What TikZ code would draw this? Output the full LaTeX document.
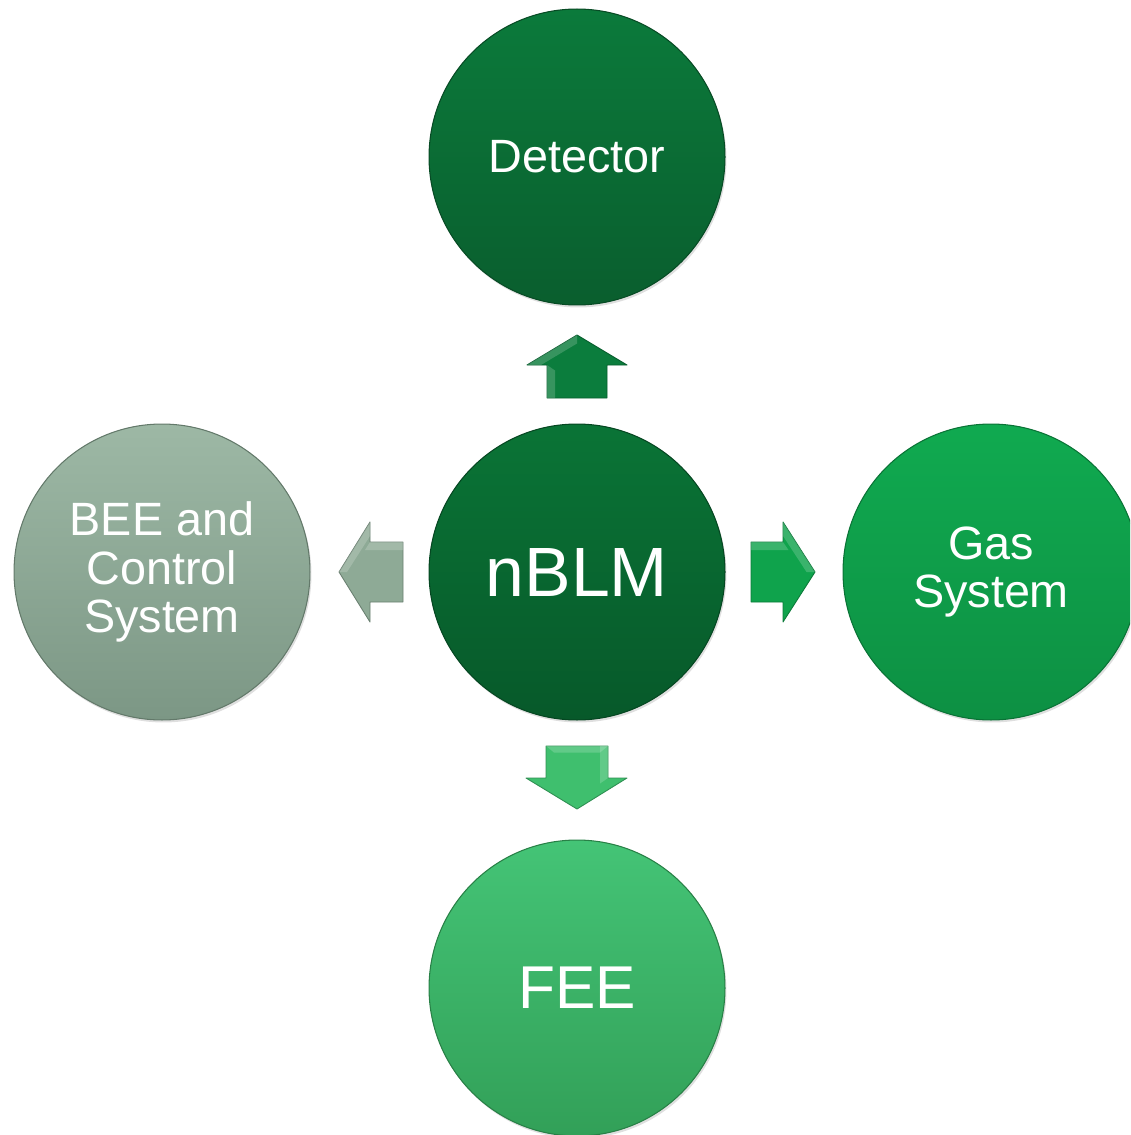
\documentclass[tikz,border=0pt]{standalone}
\usepackage{fontspec}
\setmainfont{Liberation Sans}
\usetikzlibrary{shadows}
\definecolor{detTop}{HTML}{0B7A3B}
\definecolor{detBot}{HTML}{0A5E2E}
\definecolor{nbTop}{HTML}{0A7436}
\definecolor{nbBot}{HTML}{07592A}
\definecolor{gasTop}{HTML}{10AA50}
\definecolor{gasBot}{HTML}{0D9043}
\definecolor{feeTop}{HTML}{44C476}
\definecolor{feeBot}{HTML}{32A058}
\definecolor{beeTop}{HTML}{9DB8A5}
\definecolor{beeBot}{HTML}{7C9785}
\definecolor{arUp}{HTML}{0B7D3D}
\definecolor{arRight}{HTML}{0FA34C}
\definecolor{arDown}{HTML}{3FBF6E}
\definecolor{arLeft}{HTML}{8EAA96}
\tikzset{
  ball/.style={circle, minimum size=5.92cm, inner sep=0pt, text=white, align=center,
    draw=#1Bot!80!black, line width=0.6pt, top color=#1Top, bottom color=#1Bot,
    drop shadow={shadow xshift=0.03cm, shadow yshift=-0.05cm, opacity=0.25}},
  smalltext/.style={font=\fontsize{26.6}{27.8}\selectfont},
  blockarrow/.style={fill=#1, draw=#1!75!black, line width=0.5pt, line join=round},
  bevel/.style={fill=white, fill opacity=0.18, draw=none},
}
\begin{document}
\begin{tikzpicture}[x=0.02cm, y=-0.02cm]
\useasboundingbox (0,0) rectangle (1130,1135);
\clip (0,0) rectangle (1130,1135);
% circles
\node[ball=det, smalltext] (det) at (577,157) {Detector};
\node[ball=nb, font=\fontsize{39.7}{42}\selectfont] (nblm) at (577,572) {nBLM};
\node[ball=gas, smalltext] (gas) at (991,572) {Gas\\System};
\node[ball=bee, smalltext] (bee) at (162,572) {BEE and\\Control\\System};
\node[ball=fee, font=\fontsize{34.4}{36}\selectfont] (fee) at (577,988) {FEE};
% up arrow
\begin{scope}[shift={(577,366.5)}]
  \draw[blockarrow=arUp] (-30,31.5) -- (-30,-1.5) -- (-50,-1.5) -- (0,-31.5) -- (50,-1.5) -- (30,-1.5) -- (30,31.5) -- cycle;
  \fill[bevel] (-30,31.5) -- (-30,-1.5) -- (-22,4) -- (-22,31.5) -- cycle;
  \fill[bevel] (-50,-1.5) -- (0,-31.5) -- (0,-23) -- (-36,-1.5) -- cycle;
\end{scope}
% right arrow
\begin{scope}[shift={(782.5,572)}]
  \draw[blockarrow=arRight] (-31.5,-30) -- (0.5,-30) -- (0.5,-50) -- (32.5,0) -- (0.5,50) -- (0.5,30) -- (-31.5,30) -- cycle;
  \fill[bevel] (-31.5,-30) -- (0.5,-30) -- (6,-22) -- (-31.5,-22) -- cycle;
  \fill[bevel] (0.5,-50) -- (32.5,0) -- (24,0) -- (0.5,-36) -- cycle;
\end{scope}
% left arrow
\begin{scope}[shift={(371,572)}]
  \draw[blockarrow=arLeft] (32,-30) -- (-1,-30) -- (-1,-50) -- (-32,0) -- (-1,50) -- (-1,30) -- (32,30) -- cycle;
  \fill[bevel] (32,-30) -- (-1,-30) -- (-6,-22) -- (32,-22) -- cycle;
  \fill[bevel] (-1,-50) -- (-32,0) -- (-24,0) -- (-1,-36) -- cycle;
\end{scope}
% down arrow
\begin{scope}[shift={(577,777.5)}]
  \draw[blockarrow=arDown] (-31,-31.5) -- (-31,0.5) -- (-51,0.5) -- (0,31.5) -- (50,0.5) -- (31,0.5) -- (31,-31.5) -- cycle;
  \fill[bevel] (31,-31.5) -- (31,0.5) -- (23,6) -- (23,-31.5) -- cycle;
  \fill[bevel] (-31,-31.5) -- (31,-31.5) -- (23,-25) -- (-23,-25) -- cycle;
\end{scope}
\end{tikzpicture}
\end{document}
